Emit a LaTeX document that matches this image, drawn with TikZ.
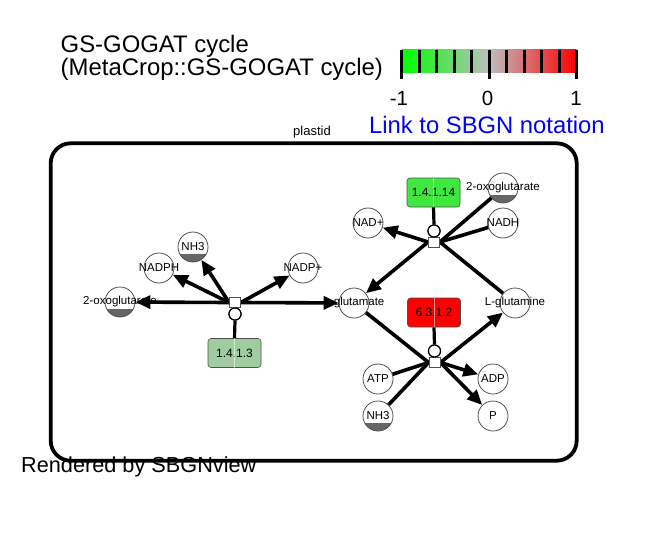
\documentclass[tikz,border=0pt]{standalone}
\usepackage{fontspec}
\setmainfont{Liberation Sans}
\usetikzlibrary{arrows.meta}
\definecolor{edgegray}{RGB}{80,80,80}
\definecolor{clonegray}{RGB}{102,102,102}
\definecolor{ecA}{RGB}{160,205,160}
\definecolor{ecB}{RGB}{62,232,62}
\definecolor{ecC}{RGB}{255,0,0}
\definecolor{linkblue}{RGB}{0,0,255}
\definecolor{midgray}{RGB}{190,190,190}
\tikzset{
  species/.style={circle, draw=edgegray, line width=0.8pt, fill=white, minimum size=30pt, inner sep=0pt},
  clone/.style={path picture={\fill[clonegray] ([yshift=-2pt]path picture bounding box.south west) rectangle ([yshift=8pt]path picture bounding box.south east);}},
  slabel/.style={font=\fontsize{11.5}{12}\selectfont, inner sep=0pt},
  procnode/.style={rectangle, draw=edgegray, line width=0.8pt, fill=white, minimum width=11pt, minimum height=10pt, inner sep=0pt},
  catnode/.style={circle, draw=black, line width=1.2pt, fill=white, minimum size=12pt, inner sep=0pt},
  enzyme/.style={rectangle, rounded corners=3pt, draw=edgegray, line width=0.6pt, minimum width=53pt, minimum height=29pt, inner sep=0pt, font=\fontsize{12}{13}\selectfont},
  prod/.style={line width=3.6pt, -{Triangle[length=15pt,width=13pt]}},
  cons/.style={line width=3.6pt},
  catline/.style={line width=3.2pt},
  divline/.style={draw=white, draw opacity=0.55, line width=0.7pt},
  tick/.style={line width=2.6pt},
}
\begin{document}
\begin{tikzpicture}[x=1pt, y=-1pt]
\useasboundingbox (0,0) rectangle (661,535);

% title
\node[anchor=base west, inner sep=0pt, font=\fontsize{23.9}{23}\selectfont] (title1) at (60.5,52.3) {GS-GOGAT cycle};
\node[anchor=base west, inner sep=0pt, font=\fontsize{23.9}{23}\selectfont] (title2) at (60.5,75) {(MetaCrop::GS-GOGAT cycle)};

% colour bar
\shade[left color=green, right color=red, middle color=midgray] (401.7,50) rectangle (576.7,73);
\foreach \i in {0,...,10} {
  \draw[tick] ({401.7+17.5*\i},50) -- ({401.7+17.5*\i},73);
}
\draw[tick] (401.7,73) -- (401.7,79);
\draw[tick] (489.2,73) -- (489.2,79);
\draw[tick] (576.7,73) -- (576.7,79);
\node[anchor=base, inner sep=0pt, font=\fontsize{20.5}{21}\selectfont] (tm1) at (399,105.7) {-1};
\node[anchor=base, inner sep=0pt, font=\fontsize{20.5}{21}\selectfont] (t0) at (487.5,105.7) {0};
\node[anchor=base, inner sep=0pt, font=\fontsize{20.5}{21}\selectfont] (tp1) at (576,105.7) {1};
\node[anchor=base west, inner sep=0pt, text=linkblue, font=\fontsize{23.8}{23}\selectfont] (link) at (369,133.3) {Link to SBGN notation};

% compartment
\draw[line width=3.8pt, rounded corners=20pt] (50.7,143.3) rectangle (576.7,460.7);
\node[anchor=base west, inner sep=0pt, font=\fontsize{13}{14}\selectfont] (plastid) at (293,135) {plastid};

% species
\node[species, clone] (oxoA) at (120,302) {};
\node[species] (nadph) at (159,268) {};
\node[species, clone] (nh3A) at (193,247) {};
\node[species] (nadpp) at (303,268) {};
\node[species] (glu) at (354,303) {};
\node[species, clone] (oxoB) at (503,188) {};
\node[species] (nadh) at (503,223) {};
\node[species] (nadp) at (368,223) {};
\node[species] (gln) at (515,303) {};
\node[species] (atp) at (378,379) {};
\node[species, clone] (nh3B) at (378,416) {};
\node[species] (adp) at (493,379) {};
\node[species] (pi) at (493,416) {};

\node[slabel] (loxoA) at (oxoA) {2-oxoglutarate};
\node[slabel] (lnadph) at (nadph) {NADPH};
\node[slabel] (lnh3A) at (nh3A) {NH3};
\node[slabel] (lnadpp) at (nadpp) {NADP+};
\node[slabel] (lglu) at (glu) {L-glutamate};
\node[slabel] (loxoB) at (oxoB) {2-oxoglutarate};
\node[slabel] (lnadh) at (nadh) {NADH};
\node[slabel] (lnadp) at (nadp) {NAD+};
\node[slabel] (lgln) at (gln) {L-glutamine};
\node[slabel] (latp) at (atp) {ATP};
\node[slabel] (lnh3B) at (nh3B) {NH3};
\node[slabel] (ladp) at (adp) {ADP};
\node[slabel] (lpi) at (pi) {P};

% enzymes
\node[enzyme, fill=ecA] (eA) at (234.5,353) {1.4.1.3};
\draw[divline] (eA.north) -- (eA.south);
\node[enzyme, fill=ecB] (eB) at (433.5,192.5) {1.4.1.14};
\draw[divline] (eB.north) -- (eB.south);
\node[enzyme, fill=ecC] (eC) at (434,312.5) {6.3.1.2};
\draw[divline] (eC.north) -- (eC.south);

% process nodes (placed, drawn later on top)
\node[procnode] (pA) at (235,302.5) {};
\node[procnode] (pB) at (434,242) {};
\node[procnode] (pC) at (434.5,362.5) {};
\node[catnode] (cA) at (235,314) {};
\node[catnode] (cB) at (434,231) {};
\node[catnode] (cC) at (434.5,351) {};

% catalysis lines
\draw[catline] (eA.north) -- (cA.south);
\draw[catline] (eB.south) -- (cB.north);
\draw[catline] (eC.south) -- (cC.north);

% reaction A edges
\draw[prod] (pA.west) -- (oxoA);
\draw[prod] (pA.west) -- (nadph);
\draw[prod] (pA.west) -- (nh3A);
\draw[prod] (pA.east) -- (nadpp);
\draw[prod] (pA.east) -- (glu);

% reaction B edges
\draw[cons] (oxoB) -- (pB.east);
\draw[cons] (nadh) -- (pB.east);
\draw[cons] (gln) -- (pB.east);
\draw[prod] (pB.west) -- (nadp);
\draw[prod] (pB.west) -- (glu);

% reaction C edges
\draw[cons] (glu) -- (pC.west);
\draw[cons] (atp) -- (pC.west);
\draw[cons] (nh3B) -- (pC.west);
\draw[prod] (pC.east) -- (gln);
\draw[prod] (pC.east) -- (adp);
\draw[prod] (pC.east) -- (pi);

% redraw process and catalysis glyphs on top
\node[procnode] at (pA) {};
\node[procnode] at (pB) {};
\node[procnode] at (pC) {};
\node[catnode] at (cA) {};
\node[catnode] at (cB) {};
\node[catnode] at (cC) {};

\node[anchor=base west, inner sep=0pt, font=\fontsize{21.7}{22}\selectfont] (rendered) at (21,472.7) {Rendered by SBGNview};
\end{tikzpicture}
\end{document}
